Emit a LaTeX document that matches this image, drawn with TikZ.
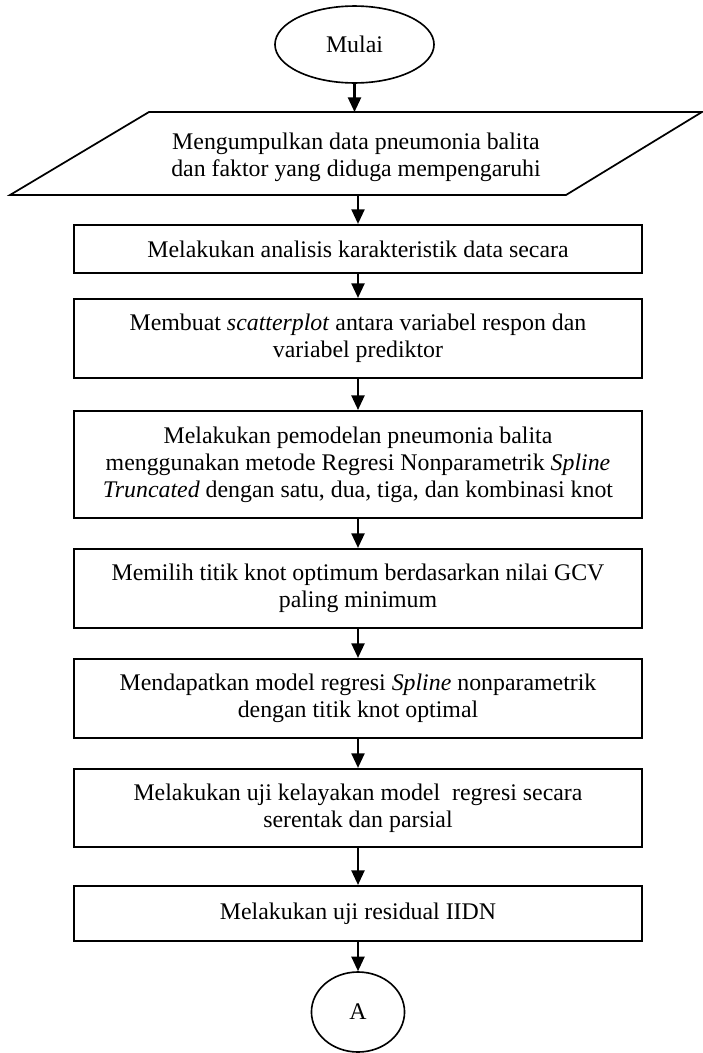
\documentclass[tikz,border=0pt]{standalone}
\usepackage{fontspec}
\setmainfont{Liberation Serif}
\usetikzlibrary{shapes.geometric,arrows.meta}
\begin{document}
\begin{tikzpicture}[x=0.52pt,y=-0.52pt,
  every node/.style={font=\fontsize{12.4}{14.1}\selectfont, align=center, inner sep=0pt},
  procbox/.style={draw, line width=1.1pt, rectangle, minimum width=295.4pt},
  term/.style={draw, line width=0.85pt, ellipse},
  arr/.style={line width=1.1pt, -{Triangle[length=7.6pt,width=6.8pt]}}]
\useasboundingbox (0,0) rectangle (702,1053);
% start
\node[term, minimum width=82.7pt, minimum height=40pt] (start) at (354.5,44.5) {Mulai};
% parallelogram (data input)
\draw[line width=0.9pt] (149,112) -- (702,112) -- (566,195) -- (10,195) -- cycle;
\node (data) at (356,157) {Mengumpulkan data pneumonia balita\\dan faktor yang diduga mempengaruhi};
\coordinate (dtop) at (354.5,112);
\coordinate (dbot) at (358,195);
% process boxes
\node[procbox, minimum height=25pt] (b1) at (358,249) {Melakukan analisis karakteristik data secara};
\node[procbox, minimum height=41.1pt] (b2) at (358,338.5) {Membuat \textit{scatterplot} antara variabel respon dan\\variabel prediktor};
\node[procbox, minimum height=55.6pt] (b3) at (358,464.5) {Melakukan pemodelan pneumonia balita\\menggunakan metode Regresi Nonparametrik \textit{Spline}\\\textit{Truncated} dengan satu, dua, tiga, dan kombinasi knot};
\node[procbox, minimum height=41.1pt] (b4) at (358,588.5) {Memilih titik knot optimum berdasarkan nilai GCV\\paling minimum};
\node[procbox, minimum height=41.1pt] (b5) at (358,698.5) {Mendapatkan model regresi \textit{Spline} nonparametrik\\dengan titik knot optimal};
\node[procbox, minimum height=40.6pt] (b6) at (358,808) {Melakukan uji kelayakan model~ regresi secara\\serentak dan parsial};
\node[procbox, minimum height=28.6pt] (b7) at (358,913.5) {Melakukan uji residual IIDN};
% connector
\node[term, minimum width=48.4pt, minimum height=41.6pt] (conA) at (358,1012) {A};
% arrows
\draw[arr] (start.south) -- (dtop);
\draw[arr] (dbot) -- (b1.north);
\draw[arr] (b1) -- (b2);
\draw[arr] (b2) -- (b3);
\draw[arr] (b3) -- (b4);
\draw[arr] (b4) -- (b5);
\draw[arr] (b5) -- (b6);
\draw[arr] (b6) -- (b7);
\draw[arr] (b7) -- (conA);
\end{tikzpicture}
\end{document}
